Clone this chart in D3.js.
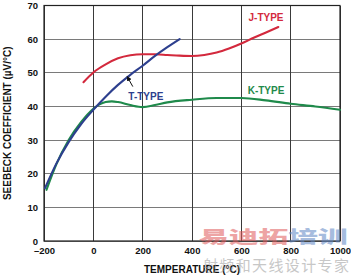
<!DOCTYPE html>
<html>
<head>
<meta charset="utf-8">
<script src="https://cdn.jsdelivr.net/npm/d3@7"></script>
<style>
  body { margin: 0; background: #fff; }
  text { font-family: "Liberation Sans", Arial, sans-serif; font-weight: bold; }
  .grid line { shape-rendering: crispEdges; }
</style>
</head>
<body>
<div id="chart"></div>
<script>
// values (temperature in degC, seebeck in uV/degC)
var jTemp  = [-40, 0, 50, 100, 150, 200, 250, 300, 350, 400, 450, 500, 550, 600, 650, 700, 750];
var jValue = [47.2, 50.1, 52.5, 54.3, 55.2, 55.5, 55.5, 55.3, 55.1, 55.0, 55.3, 56.0, 57.2, 58.7, 60.4, 62.0, 63.6];

var tTemp  = [-196, -150, -100, -50, 0, 50, 100, 150, 200, 250, 300, 350];
var tValue = [15.7, 23.0, 29.4, 34.7, 39.0, 42.9, 46.4, 49.4, 52.1, 55.0, 57.6, 60.0];

var kTemp  = [-190, -150, -100, -50, 0, 25, 50, 75, 100, 150, 200, 250, 300, 400, 500, 600, 700, 800, 900, 1000];
var kValue = [15.2, 22.8, 30.0, 35.3, 39.3, 40.6, 41.3, 41.5, 41.3, 40.4, 39.8, 40.4, 41.2, 42.0, 42.5, 42.5, 41.8, 40.8, 40.0, 39.0];

var xTicks = [-200, 0, 200, 400, 600, 800, 1000];
var yTicks = [0, 10, 20, 30, 40, 50, 60, 70];

var series = [
  { name: "J-TYPE", temp: jTemp, value: jValue, color: "#d3293d" },
  { name: "K-TYPE", temp: kTemp, value: kValue, color: "#1f8a4b" },
  { name: "T-TYPE", temp: tTemp, value: tValue, color: "#2d3f8e" }
];

var margin = { top: 5.5, right: 11, bottom: 36, left: 44 },
    width = 351 - margin.left - margin.right,
    height = 277 - margin.top - margin.bottom;

var svg = d3.select("#chart").append("svg")
    .attr("width", 351)
    .attr("height", 277);

var g = svg.append("g")
    .attr("transform", "translate(" + margin.left + "," + margin.top + ")");

var x = d3.scaleLinear().domain([-200, 1000]).range([0, width]);
var y = d3.scaleLinear().domain([0, 70]).range([height, 0]);

// grid
var grid = g.append("g").attr("class", "grid");
grid.selectAll(".hgrid")
    .data(yTicks)
    .enter().append("line")
      .attr("x1", 0).attr("x2", width)
      .attr("y1", function(d) { return y(d); })
      .attr("y2", function(d) { return y(d); })
      .attr("stroke", "#7a7a7a")
      .attr("stroke-width", 1);
grid.selectAll(".vgrid")
    .data(xTicks)
    .enter().append("line")
      .attr("x1", function(d) { return x(d); })
      .attr("x2", function(d) { return x(d); })
      .attr("y1", 0).attr("y2", height)
      .attr("stroke", "#3a3a3a")
      .attr("stroke-width", 1);

g.append("rect")
    .attr("width", width)
    .attr("height", height)
    .attr("fill", "none")
    .attr("stroke", "#222")
    .attr("stroke-width", 1.2);

// axes
var xAxis = g.append("g")
    .attr("transform", "translate(0," + height + ")")
    .call(d3.axisBottom(x).tickValues(xTicks).tickSize(0).tickPadding(6)
      .tickFormat(function(d) { return d < 0 ? "\u2013" + Math.abs(d) : d; }));
var yAxis = g.append("g")
    .call(d3.axisLeft(y).tickValues(yTicks).tickSize(0).tickPadding(6));
[xAxis, yAxis].forEach(function(a) {
  a.select(".domain").remove();
  a.selectAll("text")
    .style("font-family", "'Liberation Sans', Arial, sans-serif")
    .style("font-weight", "bold")
    .style("font-size", "9.5px")
    .attr("fill", "#111");
});

// curves
var line = d3.line()
    .x(function(d) { return x(d[0]); })
    .y(function(d) { return y(d[1]); })
    .curve(d3.curveMonotoneX);

g.selectAll(".curve")
    .data(series)
    .enter().append("path")
      .attr("class", "curve")
      .attr("d", function(s) { return line(d3.zip(s.temp, s.value)); })
      .attr("fill", "none")
      .attr("stroke", function(s) { return s.color; })
      .attr("stroke-width", 2.1)
      .attr("stroke-linecap", "round");

// curve labels
var labelPos = { "J-TYPE": [700, 65.4], "K-TYPE": [700, 43.7], "T-TYPE": [213, 42] };
g.selectAll(".lbl")
    .data(series)
    .enter().append("text")
      .attr("x", function(s) { return x(labelPos[s.name][0]); })
      .attr("y", function(s) { return y(labelPos[s.name][1]); })
      .attr("text-anchor", "middle")
      .attr("fill", function(s) { return s.color; })
      .style("font-size", "10px")
      .text(function(s) { return s.name; });

// arrow to T-type curve
svg.append("defs").append("marker")
    .attr("id", "arr")
    .attr("viewBox", "0 0 10 10")
    .attr("refX", 9).attr("refY", 5)
    .attr("markerWidth", 5).attr("markerHeight", 5)
    .attr("orient", "auto")
  .append("path")
    .attr("d", "M0,0L10,5L0,10z")
    .attr("fill", "#111");
g.append("line")
    .attr("x1", x(160)).attr("y1", y(45.9))
    .attr("x2", x(137)).attr("y2", y(48.9))
    .attr("stroke", "#111")
    .attr("stroke-width", 1)
    .attr("marker-end", "url(#arr)");

// axis titles
svg.append("text")
    .attr("x", margin.left + width / 2)
    .attr("y", 273)
    .attr("text-anchor", "middle")
    .style("font-size", "10px")
    .attr("fill", "#111")
    .text("TEMPERATURE (\u00B0C)");
svg.append("text")
    .attr("transform", "translate(11," + (margin.top + height / 2) + ") rotate(-90)")
    .attr("text-anchor", "middle")
    .style("font-size", "10px")
    .attr("fill", "#111")
    .text("SEEBECK COEFFICIENT (\u00B5V/\u00B0C)");

// watermark
var wm = svg.append("g").attr("opacity", 0.55);
var big = wm.append("text")
    .attr("transform", "translate(199,243) scale(1.75,1)")
    .style("font-family", "'Noto Sans CJK SC', sans-serif")
    .style("font-weight", "900")
    .style("font-size", "17px");
big.append("tspan").attr("fill", "#e05a5a").text("易迪拓");
big.append("tspan").attr("fill", "#5f86c4").text("培训");
wm.append("text")
    .attr("x", 203)
    .attr("y", 271)
    .attr("textLength", 146)
    .style("font-family", "'Noto Sans CJK SC', sans-serif")
    .style("font-weight", "normal")
    .style("font-size", "15px")
    .attr("fill", "#9a9a9a")
    .text("射频和天线设计专家");
</script>
</body>
</html>
